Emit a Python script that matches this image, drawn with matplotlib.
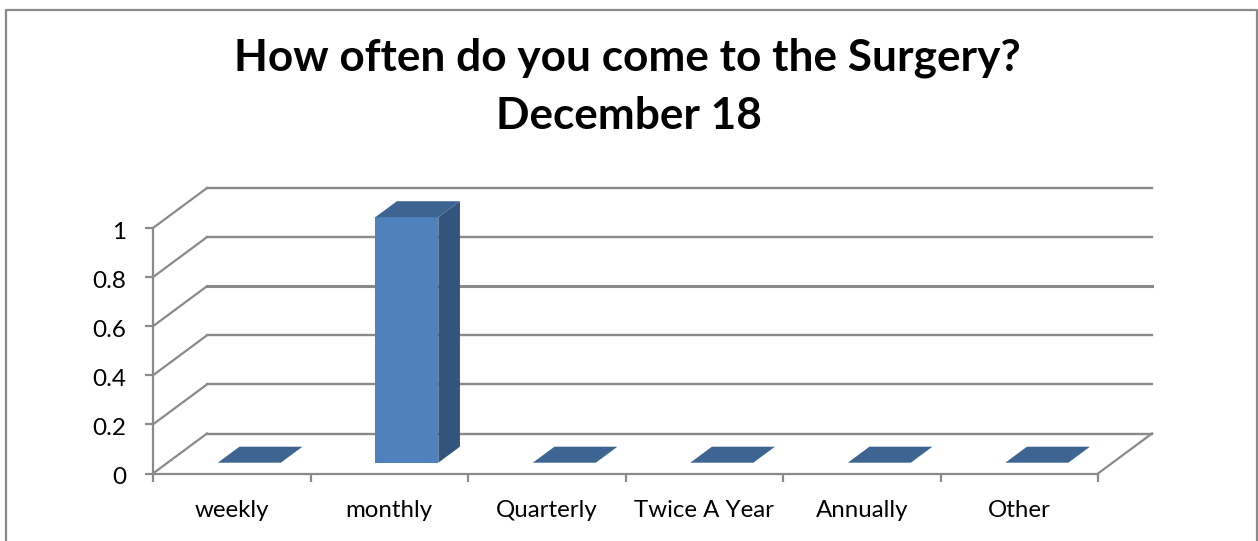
import matplotlib
matplotlib.use("Agg")
import matplotlib.pyplot as plt
from matplotlib.patches import Polygon
from matplotlib.transforms import ScaledTranslation

categories = ['weekly', 'monthly', 'Quarterly', 'Twice A Year', 'Annually', 'Other']
values = [0, 1, 0, 0, 0, 0]
y_ticks = [0, 0.2, 0.4, 0.6, 0.8, 1]
y_tick_labels = ['0', '0.2', '0.4', '0.6', '0.8', '1']
title_lines = ['How often do you come to the Surgery?', 'December 18']

W, H = 1258, 541
GREY = '#8a8a8a'
plt.rcParams['font.family'] = ['Lato', 'DejaVu Sans']

fig = plt.figure(figsize=(W/100, H/100), dpi=100)

# front plane of the fake 3d box, in pixels
left, right, bottom, top = 153, 1098, 473.5, 228
ax = fig.add_axes([left/W, 1-bottom/H, (right-left)/W, (bottom-top)/H])
ax.set_xlim(0, len(categories))
ax.set_ylim(0, 1)
ax.patch.set_visible(False)

# depth of the box in data units (54 px across, 40 px up)
px_x = len(categories)/(right-left)
px_y = 1/(bottom-top)
depth_x = 54*px_x
depth_y = 40*px_y

def proj(x, v, d):
    return x + d*depth_x, v + d*depth_y

n = len(categories)
for v in y_ticks:
    p0 = proj(0, v, 0)
    p1 = proj(0, v, 1)
    p2 = proj(n, v, 1)
    ax.plot([p0[0], p1[0]], [p0[1], p1[1]], color=GREY, lw=1.6,
            clip_on=False, zorder=1)
    # the 0.6 line comes out heavier in the reference
    ax.plot([p1[0], p2[0]], [p1[1], p2[1]], color=GREY, lw=2.2 if v == 0.6 else 1.7,
            clip_on=False, zorder=1)

# floor edge on the right
p0 = proj(n, 0, 0)
p1 = proj(n, 0, 1)
ax.plot([p0[0], p1[0]], [p0[1], p1[1]], color=GREY, lw=1.6, clip_on=False, zorder=1)

# bars
bar_w = 63*px_x
bar_d0, bar_d1 = 0.27, 0.67
for i, v in enumerate(values):
    x0 = i + 0.5 - bar_w/2 + 3*px_x
    x1 = x0 + bar_w
    a = proj(x0, 0, bar_d0)
    b = proj(x1, 0, bar_d0)
    c = proj(x1, v, bar_d0)
    d = proj(x0, v, bar_d0)
    e = proj(x1, 0, bar_d1)
    f = proj(x1, v, bar_d1)
    g = proj(x0, v, bar_d1)
    if v > 0:
        ax.add_patch(Polygon([a, b, c, d], fc='#4f81bd', ec='none', clip_on=False, zorder=3))
        ax.add_patch(Polygon([b, e, f, c], fc='#33547c', ec='none', clip_on=False, zorder=3))
    ax.add_patch(Polygon([d, c, f, g], fc='#3e6491', ec='none', clip_on=False, zorder=3))

for s in ['top', 'right']:
    ax.spines[s].set_visible(False)
for s in ['left', 'bottom']:
    ax.spines[s].set_color(GREY)
    ax.spines[s].set_linewidth(1.6)
    ax.spines[s].set_zorder(2)

ax.set_yticks(y_ticks)
ax.set_yticklabels(y_tick_labels)
ax.set_xticks(range(n+1))
ax.set_xticklabels([])
ax.set_xticks([i+0.5 for i in range(n)], minor=True)
ax.set_xticklabels(categories, minor=True)
ax.tick_params(axis='x', which='major', length=6, width=1.6, color=GREY)
ax.tick_params(axis='x', which='minor', length=0, pad=19, labelsize=17.3, labelcolor='black')
ax.tick_params(axis='y', length=6, width=1.6, color=GREY, labelsize=17.5, pad=13)
# nudge the value labels down to sit level with their ticks
nudge = ScaledTranslation(0, -2.5/100, fig.dpi_scale_trans)
for lab in ax.get_yticklabels():
    lab.set_transform(lab.get_transform() + nudge)

# chart frame, runs off the bottom of the image
fig.add_artist(plt.Line2D([5.5/W, 5.5/W, 1256.5/W, 1256.5/W], [0, 1-9.5/H, 1-9.5/H, 0],
                          color=GREY, lw=1.6, transform=fig.transFigure))

fig.text(627/W, 1-70/H, title_lines[0], ha='center', va='baseline',
         fontsize=31.8, fontweight='bold', color='black')
fig.text(629/W, 1-129/H, title_lines[1], ha='center', va='baseline',
         fontsize=31.8, fontweight='bold', color='black')

fig.savefig('out.png', dpi=100)
